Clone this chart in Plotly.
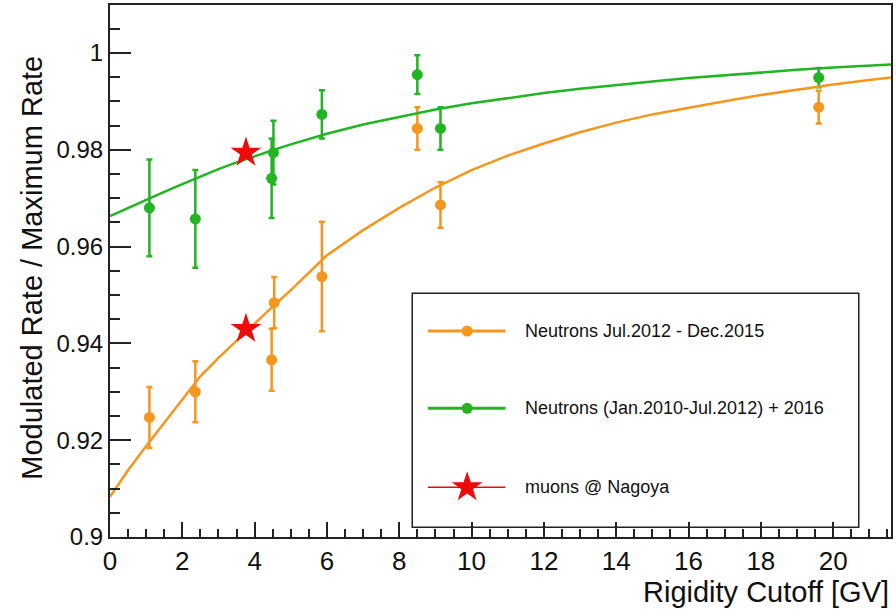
import plotly.graph_objects as go

# ---------------- data ----------------
orange_x = [1.09, 2.36, 4.47, 4.54, 5.86, 8.50, 9.14, 19.6]
orange_y = [0.9247, 0.9300, 0.9366, 0.9484, 0.9538, 0.9844, 0.9686, 0.9888]
orange_err = [0.0063, 0.0063, 0.0064, 0.0053, 0.0113, 0.0044, 0.0047, 0.0034]

green_x = [1.09, 2.36, 4.47, 4.52, 5.86, 8.50, 9.14, 19.6]
green_y = [0.9680, 0.9657, 0.9741, 0.9794, 0.9873, 0.9955, 0.9844, 0.9949]
green_err = [0.0100, 0.0101, 0.0082, 0.0066, 0.0050, 0.0040, 0.0044, 0.0020]

muon_x = [3.76, 3.76]
muon_y = [0.9794, 0.9430]

fit_x = [0, 0.5, 1, 1.5, 2, 2.5, 3, 3.5, 4, 4.5, 5, 5.5, 6, 7, 8, 9, 10, 11, 12,
         13, 14, 15, 16, 17, 18, 19, 20, 21, 21.6]
orange_fit = [0.9083, 0.9138, 0.9188, 0.9236, 0.9284, 0.9332, 0.9370, 0.9406,
              0.9442, 0.9476, 0.9510, 0.9545, 0.9582, 0.9634, 0.9680, 0.9722,
              0.9758, 0.9788, 0.9813, 0.9836, 0.9856, 0.9873, 0.9887, 0.9900,
              0.9913, 0.9924, 0.9935, 0.9944, 0.9949]
green_fit = [0.9663, 0.9680, 0.9697, 0.9713, 0.9729, 0.9745, 0.9760, 0.9774,
             0.9787, 0.9799, 0.9811, 0.9822, 0.9833, 0.9852, 0.9868, 0.9883,
             0.9896, 0.9907, 0.9917, 0.9926, 0.9934, 0.9941, 0.9948, 0.9954,
             0.9960, 0.9965, 0.9970, 0.9974, 0.9976]

labels = ["Neutrons Jul.2012 - Dec.2015",
          "Neutrons (Jan.2010-Jul.2012) + 2016",
          "muons @ Nagoya"]

x_ticks = [0, 2, 4, 6, 8, 10, 12, 14, 16, 18, 20]
y_ticks = [0.9, 0.92, 0.94, 0.96, 0.98, 1.0]
y_tick_text = ["0.9", "0.92", "0.94", "0.96", "0.98", "1"]

# ---------------- styles ----------------
ORANGE = "#f5961e"
GREEN = "#22b422"
RED = "#ee0a0a"
AXC = "#222222"
FONT = "Liberation Sans, Arial, sans-serif"

fig = go.Figure()

for xs, ys, es, col, name in [(orange_x, orange_y, orange_err, ORANGE, labels[0]),
                              (green_x, green_y, green_err, GREEN, labels[1])]:
    fig.add_trace(go.Scatter(
        x=xs, y=ys, mode="markers", name=name, showlegend=False,
        marker=dict(color=col, size=11, symbol="circle"),
        error_y=dict(type="data", array=es, visible=True, color=col,
                     thickness=2.5, width=3),
    ))

fig.add_trace(go.Scatter(x=fit_x, y=orange_fit, mode="lines", showlegend=False,
                         line=dict(color=ORANGE, width=2.5), hoverinfo="skip"))
fig.add_trace(go.Scatter(x=fit_x, y=green_fit, mode="lines", showlegend=False,
                         line=dict(color=GREEN, width=2.5), hoverinfo="skip"))

fig.add_trace(go.Scatter(
    x=muon_x, y=muon_y, mode="markers", name=labels[2], showlegend=False,
    marker=dict(color=RED, size=23, symbol="star", line=dict(width=0)),
))

# ---------------- manual legend (paper fractions of plot area) ----------------
leg_x0, leg_x1, leg_y0, leg_y1 = 0.387, 0.9587, 0.0182, 0.458
entry_y = [0.3872, 0.2419, 0.0934]
line_x0, line_x1, mark_x, text_x = 0.4071, 0.5064, 0.4573, 0.5285
entry_cols = [ORANGE, GREEN, RED]
entry_lw = [3, 3, 1.5]

fig.add_shape(type="rect", xref="paper", yref="paper",
              x0=leg_x0, x1=leg_x1, y0=leg_y0, y1=leg_y1,
              line=dict(color=AXC, width=1.5), fillcolor="white", layer="below")
for i in range(3):
    fig.add_shape(type="line", xref="paper", yref="paper",
                  x0=line_x0, x1=line_x1, y0=entry_y[i], y1=entry_y[i],
                  line=dict(color=entry_cols[i], width=entry_lw[i]), layer="below")
    fig.add_annotation(xref="paper", yref="paper", x=text_x, y=entry_y[i],
                       text=labels[i], showarrow=False, xanchor="left",
                       yanchor="middle", font=dict(family=FONT, size=18, color="#111111"))

fig.add_trace(go.Scatter(
    x=[mark_x, mark_x], y=[entry_y[0], entry_y[1]], xaxis="x2", yaxis="y2",
    mode="markers", showlegend=False, hoverinfo="skip",
    marker=dict(color=[ORANGE, GREEN], size=11, symbol="circle")))
fig.add_trace(go.Scatter(
    x=[mark_x], y=[entry_y[2]], xaxis="x2", yaxis="y2",
    mode="markers", showlegend=False, hoverinfo="skip",
    marker=dict(color=RED, size=23, symbol="star")))

# ---------------- axis titles ----------------
fig.add_annotation(xref="paper", yref="paper", x=1.0, y=-0.103,
                   text="Rigidity Cutoff [GV]", showarrow=False,
                   xanchor="right", yanchor="middle",
                   font=dict(family=FONT, size=29, color="#111111"))
fig.add_annotation(xref="paper", yref="paper", x=-0.1, y=0.506,
                   text="Modulated Rate / Maximum Rate", showarrow=False,
                   textangle=-90, xanchor="center", yanchor="middle",
                   font=dict(family=FONT, size=29, color="#111111"))

fig.update_layout(
    width=896, height=609,
    margin=dict(l=110, r=3, t=5, b=72),
    paper_bgcolor="white", plot_bgcolor="white",
    font=dict(family=FONT, color="#111111"),
    showlegend=False,
    xaxis=dict(range=[0, 21.6], tickmode="array", tickvals=x_ticks,
               ticks="inside", ticklen=15, tickwidth=1.5, tickcolor=AXC,
               showline=True, linecolor=AXC, linewidth=2, mirror=True,
               showgrid=False, zeroline=False,
               tickfont=dict(family=FONT, size=26, color="#111111"),
               minor=dict(ticks="inside", dtick=0.5, tick0=0, ticklen=8,
                          tickwidth=1.5, tickcolor=AXC, showgrid=False)),
    yaxis=dict(range=[0.9, 1.0099], tickmode="array", tickvals=y_ticks,
               ticktext=y_tick_text,
               ticks="inside", ticklen=21, tickwidth=1.5, tickcolor=AXC,
               showline=True, linecolor=AXC, linewidth=2, mirror=True,
               showgrid=False, zeroline=False,
               tickfont=dict(family=FONT, size=24, color="#111111"),
               minor=dict(ticks="inside", dtick=0.005, tick0=0.9, ticklen=10,
                          tickwidth=1.5, tickcolor=AXC, showgrid=False)),
    xaxis2=dict(overlaying="x", range=[0, 1], visible=False, fixedrange=True),
    yaxis2=dict(overlaying="y", range=[0, 1], visible=False, fixedrange=True),
)

fig.write_html("out.html")
